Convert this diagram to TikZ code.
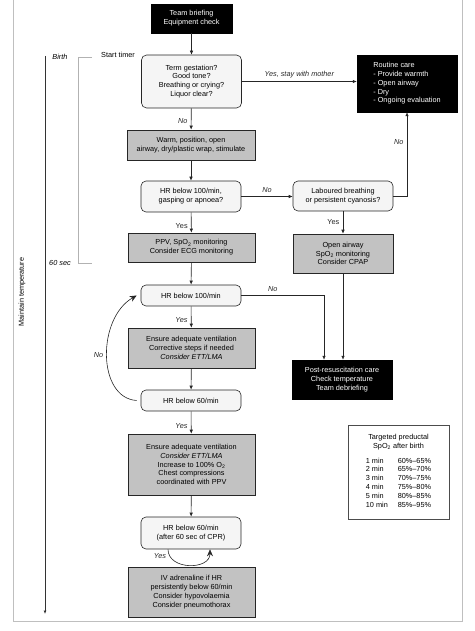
\documentclass[tikz,border=0pt]{standalone}
\usepackage{fontspec}
\setmainfont{Liberation Sans}
\usepackage{tikz}
\usetikzlibrary{arrows.meta}

\begin{document}
\begin{tikzpicture}[x=1pt,y=-1pt,
	font=\fontsize{7.3}{8.8}\selectfont,
	darkbox/.style={draw=black,fill=black,text=white,align=center,inner sep=2pt},
	checkbox/.style={draw=gray!30!black,fill=gray!8,rounded corners=5pt,align=center,minimum width=100pt,line width=0.6pt},
	actbox/.style={draw=gray!30!black,fill=gray!48,align=center,minimum width=127pt,line width=0.6pt},
	flow/.style={-{Latex[length=4pt,width=3.5pt]},black!85,line width=0.6pt},
	bigflow/.style={-{Stealth[length=7pt,width=6pt]},black!85,line width=0.6pt},
	lbl/.style={font=\fontsize{7.3}{8.8}\selectfont\itshape}]
	\useasboundingbox (0,0) rectangle (474,631);
	
%frame
	\draw[gray!50,line width=0.7pt] (13,-2) -- (13,621) -- (462,621) -- (462,-2);
	
%time line and bracket
	\coordinate (birthtop) at (45,56);
	\coordinate (timeend) at (45,614);
	\draw[-{Latex[length=3.5pt,width=3pt]},gray!40!black,line width=0.8pt] (birthtop) -- (timeend);
	\node[rotate=90] (maintain) at (22,292) {Maintain temperature};
	\coordinate (brtop) at (78,57);
	\coordinate (brbot) at (78,263);
	\draw[gray!60,line width=0.8pt] ([xshift=14pt]brtop) -- (brtop) -- (brbot) -- ([xshift=14pt]brbot);
	\node[lbl] (birth) at (60,57) {Birth};
	\node[lbl] (sixty) at (60,263) {60 sec};
	\node (timer) at (118,55) {Start timer};
	
%main column
	\node[darkbox,minimum width=81pt,minimum height=29pt] (brief) at (191.5,18.5) {Team briefing\\Equipment check};
	\node[checkbox,minimum height=53pt] (term) at (191.5,81.5) {Term gestation?\\Good tone?\\Breathing or crying?\\Liquor clear?};
	\node[actbox,minimum width=128pt,minimum height=30pt] (warm) at (191,145) {Warm, position, open\\airway, dry/plastic wrap, stimulate};
	\node[checkbox,minimum height=31pt] (gasp) at (191,196.5) {HR below 100/min,\\gasping or apnoea?};
	\node[actbox,minimum height=29pt] (ppv) at (191.5,247.5) {PPV, SpO\textsubscript{2} monitoring\\Consider ECG monitoring};
	\node[checkbox,minimum height=21pt] (hrA) at (191,295.5) {HR below 100/min};
	\node[actbox,minimum height=40pt] (vent) at (191.5,348) {Ensure adequate ventilation\\Corrective steps if needed\\\textit{Consider ETT/LMA}};
	\node[checkbox,minimum height=21pt] (hrB) at (191,400.5) {HR below 60/min};
	\node[actbox,minimum height=61pt] (comp) at (191.5,464.5) {Ensure adequate ventilation\\\textit{Consider ETT/LMA}\\Increase to 100\% O\textsubscript{2}\\Chest compressions\\coordinated with PPV};
	\node[checkbox,minimum height=32pt] (hrC) at (191,533) {HR below 60/min\\(after 60 sec of CPR)};
	\node[actbox,minimum height=50pt] (adren) at (191.5,592) {IV adrenaline if HR\\persistently below 60/min\\Consider hypovolaemia\\Consider pneumothorax};
	
%right column
	\node[darkbox,align=left,minimum width=100pt,minimum height=57pt] (routine) at (407,83.5) {Routine care\\- Provide warmth\\- Open airway\\- Dry\\- Ongoing evaluation};
	\node[checkbox,minimum height=30pt] (laboured) at (343,196) {Laboured breathing\\or persistent cyanosis?};
	\node[actbox,minimum width=100pt,minimum height=39pt] (cpap) at (343,253.5) {Open airway\\SpO\textsubscript{2} monitoring\\Consider CPAP};
	\node[darkbox,minimum width=100pt,minimum height=39pt] (post) at (342,379.5) {Post-resuscitation care\\Check temperature\\Team debriefing};
	\node[draw=gray!60!black,fill=white,line width=0.8pt,minimum width=101pt,minimum height=94pt,align=center] (spo) at (398.5,472) {Targeted preductal\\SpO\textsubscript{2} after birth\\[6pt]
		\begin{tabular}{@{}l@{\hspace{10pt}}l@{}}
		1 min & 60\%--65\%\\
		2 min & 65\%--70\%\\
		3 min & 70\%--75\%\\
		4 min & 75\%--80\%\\
		5 min & 80\%--85\%\\
		10 min & 85\%--95\%
		\end{tabular}};
	
%connectors
	\draw[flow] (brief) -- (term);
	\draw[flow] (term.east) -- node[lbl,above]{Yes, stay with mother} (term.east -| routine.west);
	\draw[flow] (term) -- node[lbl,left,pos=0.6]{No} (warm);
	\draw[flow] (warm) -- (gasp);
	\draw[flow] (gasp.east) -- node[lbl,above]{No} (gasp.east -| laboured.west);
	\draw[flow] (laboured.east) -| node[lbl,left,pos=0.82]{No} (routine.south);
	\draw[flow] (laboured) -- node[left]{Yes} (cpap);
	\draw[flow] (gasp) -- node[left,pos=0.65]{Yes} (ppv);
	\draw[flow] (ppv) -- (hrA);
	\draw[flow] (hrA.east) -| node[lbl,above,pos=0.19]{No} ([xshift=-18pt]post.north);
	\draw[flow] (cpap.south) -- (cpap.south |- post.north);
	\draw[flow] (hrA) -- node[lbl,left,pos=0.65]{Yes} (vent);
	\draw[flow] (vent) -- (hrB);
	\draw[bigflow] ([xshift=-4pt]hrB.west) .. controls (97,398) and (97,318) .. node[lbl,left]{No} ([xshift=-4pt]hrA.west);
	\draw[flow] (hrB) -- node[lbl,left,pos=0.65]{Yes} (comp);
	\draw[flow] (comp) -- (hrC);
	\draw[bigflow] ([xshift=-23pt]hrC.south) .. controls +(0,21) and +(0,21) .. node[lbl,left,pos=0.12]{Yes} ([xshift=19pt]hrC.south);
\end{tikzpicture}
\end{document}
